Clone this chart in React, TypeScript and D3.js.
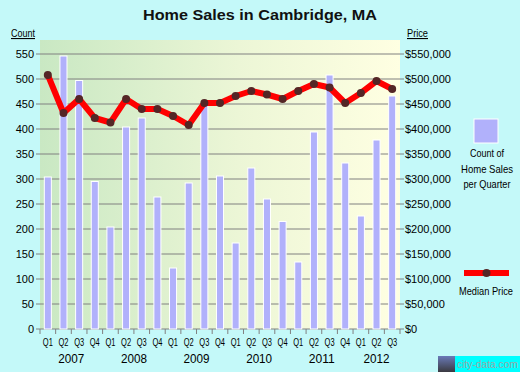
import { useEffect, useRef } from 'react';
import * as d3 from 'd3';

const years = ['2007', '2008', '2009', '2010', '2011', '2012'];
const quarters = [
  '2007Q1', '2007Q2', '2007Q3', '2007Q4',
  '2008Q1', '2008Q2', '2008Q3', '2008Q4',
  '2009Q1', '2009Q2', '2009Q3', '2009Q4',
  '2010Q1', '2010Q2', '2010Q3', '2010Q4',
  '2011Q1', '2011Q2', '2011Q3', '2011Q4',
  '2012Q1', '2012Q2', '2012Q3',
];
const salesCount = [
  304, 546, 497, 295,
  204, 404, 422, 264,
  122, 292, 448, 306,
  172, 322, 260, 215,
  134, 394, 508, 332,
  226, 378, 466,
];
const medianPrice = [
  508000, 432000, 460000, 422000,
  413000, 460000, 440000, 440000,
  426000, 408000, 452000, 452000,
  466000, 476000, 469000, 460000,
  476000, 490000, 483000, 452000,
  472000, 496000, 480000,
];
const countTicks = [0, 50, 100, 150, 200, 250, 300, 350, 400, 450, 500, 550];
const priceTicks = [0, 50000, 100000, 150000, 200000, 250000, 300000, 350000, 400000, 450000, 500000, 550000];

const W = 520;
const H = 372;
const font = 'Arial, "Liberation Sans", sans-serif';

const App = () => {
  const svgRef = useRef<SVGSVGElement>(null);

  useEffect(() => {
    if (!svgRef.current) return;
    const svg = d3.select(svgRef.current);
    svg.selectAll('*').remove();

    const left = 40, right = 400, top = 40, bottom = 329;

    const x = d3.scaleBand().domain(quarters).range([left, right]).paddingInner(0.55).paddingOuter(0.275);
    const xStep = d3.scaleBand().domain(quarters).range([left, right]);
    const yCount = d3.scaleLinear().domain([0, 550]).range([bottom, 54]);
    const yPrice = d3.scaleLinear().domain([0, 550000]).range([bottom, 54]);

    // background
    svg.append('rect').attr('width', W).attr('height', H).attr('fill', '#c4f9f9');

    const defs = svg.append('defs');
    const grad = defs.append('linearGradient').attr('id', 'plotBg').attr('x1', '0').attr('x2', '1').attr('y1', '0').attr('y2', '0');
    grad.append('stop').attr('offset', '0%').attr('stop-color', '#c9e8c3');
    grad.append('stop').attr('offset', '55%').attr('stop-color', '#ecf6d6');
    grad.append('stop').attr('offset', '100%').attr('stop-color', '#ffffe2');

    svg.append('rect')
      .attr('x', left).attr('y', top)
      .attr('width', right - left).attr('height', bottom - top)
      .attr('fill', 'url(#plotBg)');

    // title
    svg.append('text')
      .attr('x', 143).attr('y', 20)
      .attr('textLength', 234).attr('lengthAdjust', 'spacingAndGlyphs')
      .style('font-family', font).style('font-size', '15px').style('font-weight', 'bold')
      .attr('fill', '#111')
      .text('Home Sales in Cambridge, MA');

    svg.append('text').attr('x', 11).attr('y', 37)
      .attr('textLength', 24).attr('lengthAdjust', 'spacingAndGlyphs')
      .style('font-family', font).style('font-size', '11px').style('text-decoration', 'underline')
      .text('Count');
    svg.append('text').attr('x', 407).attr('y', 37)
      .attr('textLength', 21).attr('lengthAdjust', 'spacingAndGlyphs')
      .style('font-family', font).style('font-size', '11px').style('text-decoration', 'underline')
      .text('Price');

    // gridlines
    svg.append('g').selectAll('line')
      .data(countTicks)
      .join('line')
      .attr('x1', 36).attr('x2', 404)
      .attr('y1', d => yCount(d)).attr('y2', d => yCount(d))
      .attr('stroke', '#808080').attr('stroke-width', 1);

    // left axis labels
    svg.append('g').selectAll('text')
      .data(countTicks)
      .join('text')
      .attr('x', 34).attr('y', d => yCount(d) + 4)
      .attr('text-anchor', 'end')
      .style('font-family', font).style('font-size', '11px')
      .text(d => d);

    // right axis labels
    svg.append('g').selectAll('text')
      .data(priceTicks)
      .join('text')
      .attr('x', 405).attr('y', d => yPrice(d) + 4)
      .style('font-family', font).style('font-size', '11px')
      .text(d => d3.format('$,')(d));

    // x axis ticks
    const tickPos = quarters.map(q => xStep(q) || 0).concat([right]);
    svg.append('g').selectAll('line')
      .data(tickPos)
      .join('line')
      .attr('x1', d => d).attr('x2', d => d)
      .attr('y1', bottom).attr('y2', bottom + 5)
      .attr('stroke', '#808080');

    svg.append('g').selectAll('text')
      .data(quarters)
      .join('text')
      .attr('x', d => (xStep(d) || 0) + xStep.bandwidth() / 2 - 5)
      .attr('y', 346)
      .attr('textLength', 10).attr('lengthAdjust', 'spacingAndGlyphs')
      .style('font-family', font).style('font-size', '11px')
      .text(d => d.slice(4));

    svg.append('g').selectAll('text')
      .data(years)
      .join('text')
      .attr('x', y => {
        const qs = quarters.filter(q => q.startsWith(y));
        const a = xStep(qs[0]) || 0;
        const b = (xStep(qs[qs.length - 1]) || 0) + xStep.bandwidth();
        return (a + b) / 2 - 13;
      })
      .attr('y', 363)
      .attr('textLength', 26).attr('lengthAdjust', 'spacingAndGlyphs')
      .style('font-family', font).style('font-size', '13px')
      .text(d => d);

    // bars
    svg.append('g').selectAll('rect')
      .data(quarters)
      .join('rect')
      .attr('x', d => x(d) || 0)
      .attr('y', (d, i) => yCount(salesCount[i]))
      .attr('width', x.bandwidth())
      .attr('height', (d, i) => bottom - yCount(salesCount[i]))
      .attr('fill', '#b1b1fb')
      .attr('stroke', '#ffffff').attr('stroke-width', 1);

    // price line
    const cx = (i: number) => (xStep(quarters[i]) || 0) + xStep.bandwidth() / 2;
    const line = d3.line<number>()
      .x((d, i) => cx(i))
      .y(d => yPrice(d));

    svg.append('path')
      .datum(medianPrice)
      .attr('d', line)
      .attr('fill', 'none')
      .attr('stroke', '#ff0000')
      .attr('stroke-width', 6)
      .attr('stroke-linejoin', 'round');

    svg.append('g').selectAll('circle')
      .data(medianPrice)
      .join('circle')
      .attr('cx', (d, i) => cx(i))
      .attr('cy', d => yPrice(d))
      .attr('r', 4)
      .attr('fill', '#542626');

    // legend
    svg.append('rect')
      .attr('x', 474).attr('y', 119).attr('width', 24).attr('height', 24)
      .attr('fill', '#b1b1fb').attr('stroke', '#fff').attr('stroke-width', 1);
    const legendLines = [
      { t: 'Count of', w: 34, y: 157 },
      { t: 'Home Sales', w: 52, y: 173 },
      { t: 'per Quarter', w: 47, y: 188 },
    ];
    legendLines.forEach(l => {
      svg.append('text')
        .attr('x', 487 - l.w / 2).attr('y', l.y)
        .attr('textLength', l.w).attr('lengthAdjust', 'spacingAndGlyphs')
        .style('font-family', font).style('font-size', '11px')
        .text(l.t);
    });

    svg.append('line')
      .attr('x1', 464).attr('x2', 509).attr('y1', 273).attr('y2', 273)
      .attr('stroke', '#ff0000').attr('stroke-width', 6);
    svg.append('circle').attr('cx', 486.5).attr('cy', 273).attr('r', 4).attr('fill', '#542626');
    svg.append('text')
      .attr('x', 459).attr('y', 295)
      .attr('textLength', 54).attr('lengthAdjust', 'spacingAndGlyphs')
      .style('font-family', font).style('font-size', '11px')
      .text('Median Price');

    // watermark
    const logoGrad = defs.append('linearGradient').attr('id', 'logoBg').attr('x1', '0').attr('x2', '0').attr('y1', '0').attr('y2', '1');
    logoGrad.append('stop').attr('offset', '0%').attr('stop-color', '#6a7ab8');
    logoGrad.append('stop').attr('offset', '100%').attr('stop-color', '#3a3a40');
    svg.append('rect').attr('x', 438).attr('y', 356).attr('width', 17).attr('height', 16).attr('fill', 'url(#logoBg)');
    svg.append('rect').attr('x', 455).attr('y', 356).attr('width', 65).attr('height', 16).attr('fill', '#00ffff');
    svg.append('text')
      .attr('x', 457).attr('y', 368)
      .attr('textLength', 61).attr('lengthAdjust', 'spacingAndGlyphs')
      .style('font-family', font).style('font-size', '11px')
      .attr('fill', '#9aa8a8')
      .text('city-data.com');
  }, []);

  return (
    <svg ref={svgRef} width={W} height={H} style={{ position: 'absolute', left: 0, top: 0 }} />
  );
};

export default App;
